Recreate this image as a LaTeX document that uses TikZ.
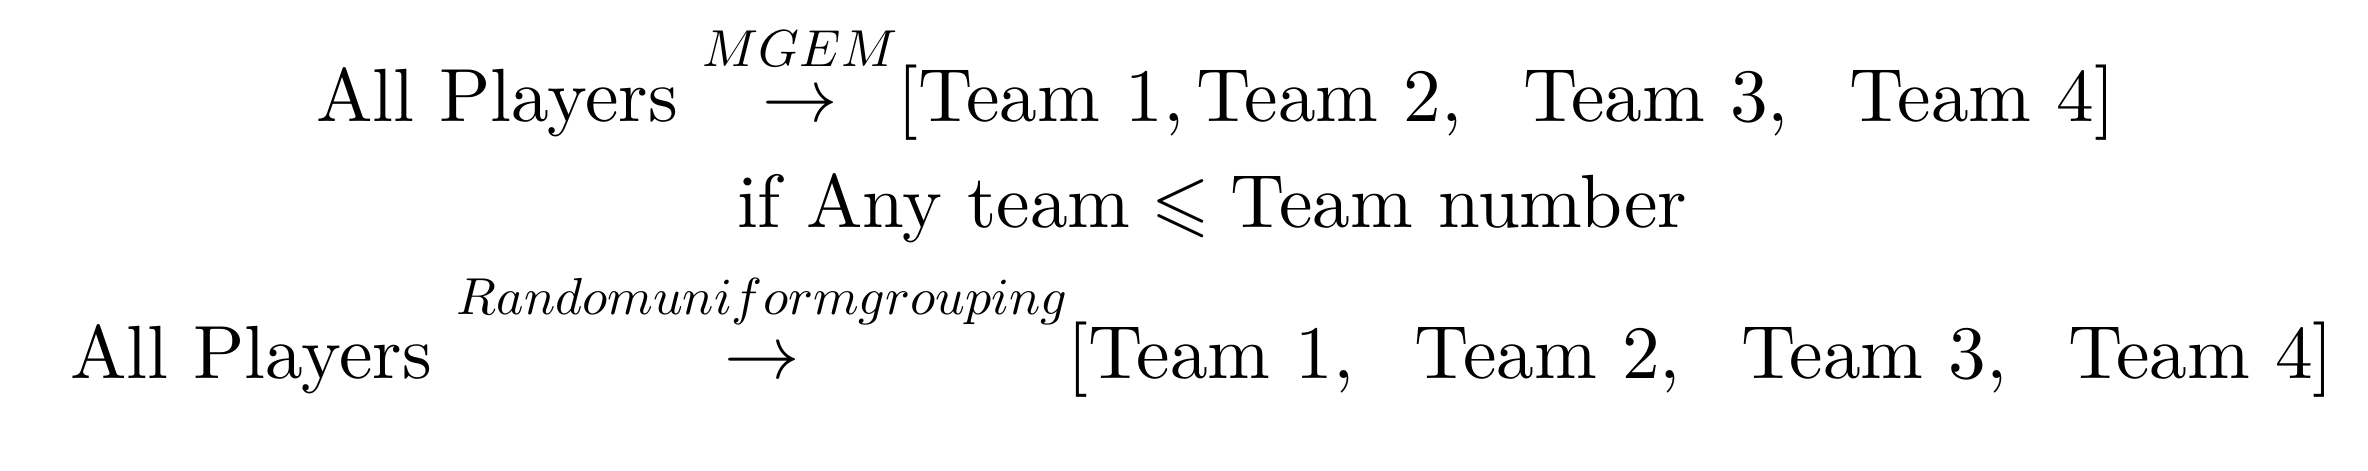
\documentclass[tikz,border=0pt]{standalone}
\usepackage{amsmath,amssymb}
\newcommand{\arrowlabel}[2]{\mathord{\stackrel{\raisebox{#2}{\scalebox{0.69}{$\textstyle #1$}}}{\rightarrow}}}
\newcommand{\tsep}{,\hspace{6.4pt}}
\begin{document}
\begin{tikzpicture}[x=0.1327pt,y=-0.1327pt,
  eq/.style={inner sep=0pt,outer sep=0pt,anchor=base west}]
\useasboundingbox (0,0) rectangle (2368,470);
\node[eq] (l1) at (316,121) {$\text{All Players }\arrowlabel{MGEM}{1.5pt}[\text{Team 1},\text{Team 2}\tsep\text{Team 3}\tsep\text{Team 4}]$};
\node[eq] (l2) at (737,227) {$\text{if Any team}\leqslant\text{Team number}$};
\node[eq] (l3) at (70,378) {$\text{All Players }\arrowlabel{Random uniform grouping}{2.8pt}[\text{Team 1}\tsep\text{Team 2}\tsep\text{Team 3}\tsep\text{Team 4}]$};
\end{tikzpicture}
\end{document}
